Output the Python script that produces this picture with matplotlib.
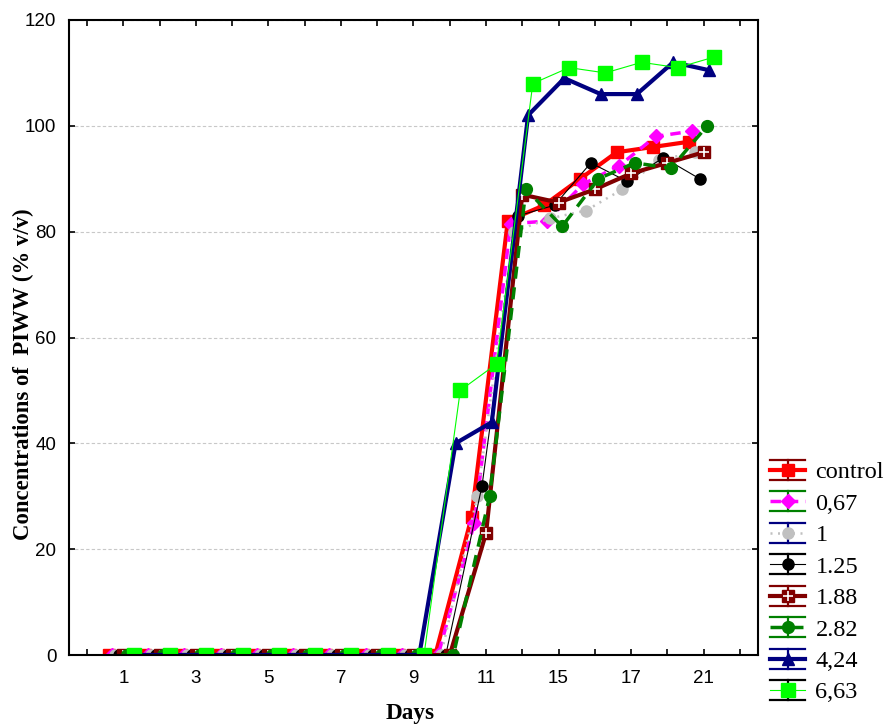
import numpy as np
import matplotlib
matplotlib.use('Agg')
import matplotlib.pyplot as plt
from matplotlib.lines import Line2D
from matplotlib.legend_handler import HandlerLine2D

# ---------------- data ----------------
tick_labels = ['1', '3', '5', '7', '9', '11', '15', '17', '21']
series_names = ['control', '0,67', '1', '1.25', '1.88', '2.82', '4,24', '6,63']

control = [0, 0, 0, 0, 0, 0, 0, 0, 0, 0, 26, 82, 85, 90, 95, 96, 97]
c067 = [0, 0, 0, 0, 0, 0, 0, 0, 0, 0, 25, 81.5, 82, 89, 92.5, 98, 99]
c1 = [0, 0, 0, 0, 0, 0, 0, 0, 0, 0, 30, 80, 82.5, 84, 88, 93.5, 95]
c125 = [0, 0, 0, 0, 0, 0, 0, 0, 0, 0, 32, 83, 85, 93, 89.5, 94, 90]
c188 = [0, 0, 0, 0, 0, 0, 0, 0, 0, 0, 23, 87, 85.5, 88, 91, 93, 95]
c282 = [0, 0, 0, 0, 0, 0, 0, 0, 0, 0, 30, 88, 81, 90, 93, 92, 100]
c424 = [0, 0, 0, 0, 0, 0, 0, 0, 0, 40, 44, 102, 109, 106, 106, 112, 110.5]
c663 = [0, 0, 0, 0, 0, 0, 0, 0, 0, 50, 55, 108, 111, 110, 112, 111, 113]

series_values = [control, c067, c1, c125, c188, c282, c424, c663]

# ---------------- styles ----------------
styles = [
    dict(color='#FF0000', ls='-', lw=3.0, marker='s', ms=9, off=0.60, wc='#800000'),
    dict(color='#FF00FF', ls=(0, (3, 2)), lw=2.5, marker='D', ms=7, off=0.68, wc='#008000'),
    dict(color='#C0C0C0', ls=(0, (0.8, 2.2)), lw=1.8, marker='o', ms=8, off=0.76, wc='#000080'),
    dict(color='#000000', ls='-', lw=0.8, marker='o', ms=8, off=0.89, wc='#000000'),
    dict(color='#800000', ls='-', lw=3.0, marker='s', ms=8.5, off=1.00, wc='#800000'),
    dict(color='#008000', ls=(0, (3.5, 2.5)), lw=2.5, marker='o', ms=8.5, off=1.10, wc='#008000'),
    dict(color='#000080', ls='-', lw=3.0, marker='^', ms=8, off=1.16, wc='#000080'),
    dict(color='#00FF00', ls='-', lw=0.8, marker='s', ms=9.5, off=1.29, wc='#000000'),
]

W, H = 886, 727
fig = plt.figure(figsize=(W / 100, H / 100), dpi=100)
ax = fig.add_axes([69 / W, 1 - 655 / H, (758 - 69) / W, (655 - 20) / H])

handles = []
overlay_idx = 4
for i, (vals, st) in enumerate(zip(series_values, styles)):
    x = np.arange(len(vals)) + st['off']
    ln, = ax.plot(x, vals, color=st['color'], ls=st['ls'], lw=st['lw'],
                  marker=st['marker'], ms=st['ms'], mfc=st['color'], mec=st['color'],
                  label=series_names[i])
    if i == overlay_idx:
        ax.plot(x, vals, ls='none', marker='+', ms=7, mew=1.2, color='white')
    handles.append(ln)

ax.set_xlim(-0.5, 18.5)
ax.set_ylim(0, 120)
ax.set_xticks(np.arange(19))
xt = []
k = 0
for t in range(19):
    if t % 2 == 1 and k < len(tick_labels):
        xt.append(tick_labels[k]); k += 1
    else:
        xt.append('')
ax.set_xticklabels(xt)
ax.set_yticks(np.arange(0, 121, 20))

ax.yaxis.grid(True, color='#c8c8c8', ls=(0, (3, 2)), lw=0.8)
ax.set_axisbelow(True)

for sp in ax.spines.values():
    sp.set_linewidth(1.5)
ax.tick_params(axis='both', direction='in', length=4, width=1.2, top=True, right=True)
ax.tick_params(axis='x', pad=10.5)
ax.tick_params(axis='y', pad=9)
for lab in ax.get_xticklabels() + ax.get_yticklabels():
    lab.set_fontfamily('Liberation Sans')
    lab.set_fontsize(13.5)

ax.set_ylabel('Concentrations of  PIWW (% v/v)', fontsize=16.4, fontweight='bold',
              family='Liberation Serif', va='center', ha='center')
ax.yaxis.set_label_coords((23 - 69) / (758 - 69), (655 - 374) / (655 - 20))
ax.set_xlabel('Days', fontsize=16.7, fontweight='bold', family='Liberation Serif',
              va='center', ha='center')
ax.xaxis.set_label_coords((410 - 69) / (758 - 69), (655 - 714) / (655 - 20))


class WhiskerHandler(HandlerLine2D):
    def __init__(self, wcolor, overlay=False, **kw):
        super().__init__(**kw)
        self.wcolor = wcolor
        self.overlay = overlay

    def create_artists(self, legend, orig_handle, xdescent, ydescent, width, height,
                       fontsize, trans):
        x0 = -xdescent
        x1 = x0 + width
        xm = (x0 + x1) / 2
        y0 = -ydescent
        y1 = y0 + height
        ym = (y0 + y1) / 2
        arts = []
        for xs, ys in (([x0, x1], [y1, y1]), ([x0, x1], [y0, y0]), ([xm, xm], [y0, y1])):
            arts.append(Line2D(xs, ys, color=self.wcolor, lw=1.6, transform=trans))
        base = super().create_artists(legend, orig_handle, xdescent, ydescent,
                                      width, height, fontsize, trans)
        for a in base:
            a.set_ydata(np.full(len(a.get_xdata()), ym))
        arts += base
        if self.overlay:
            arts.append(Line2D([xm], [ym], ls='none', marker='+', ms=7, mew=1.2,
                               color='white', transform=trans))
        return arts


hmap = {h: WhiskerHandler(st['wc'], overlay=(i == overlay_idx), numpoints=1)
        for i, (h, st) in enumerate(zip(handles, styles))}
leg = fig.legend(handles=handles, labels=series_names, handler_map=hmap,
                 loc='upper left', bbox_to_anchor=(770 / W, 1 - 460 / H),
                 bbox_transform=fig.transFigure, frameon=False,
                 prop={'family': 'Liberation Serif', 'size': 17.5},
                 handlelength=1.45, handleheight=0.89, handletextpad=0.42,
                 labelspacing=0.33, borderpad=0, borderaxespad=0)

fig.savefig('out.png', dpi=100)
